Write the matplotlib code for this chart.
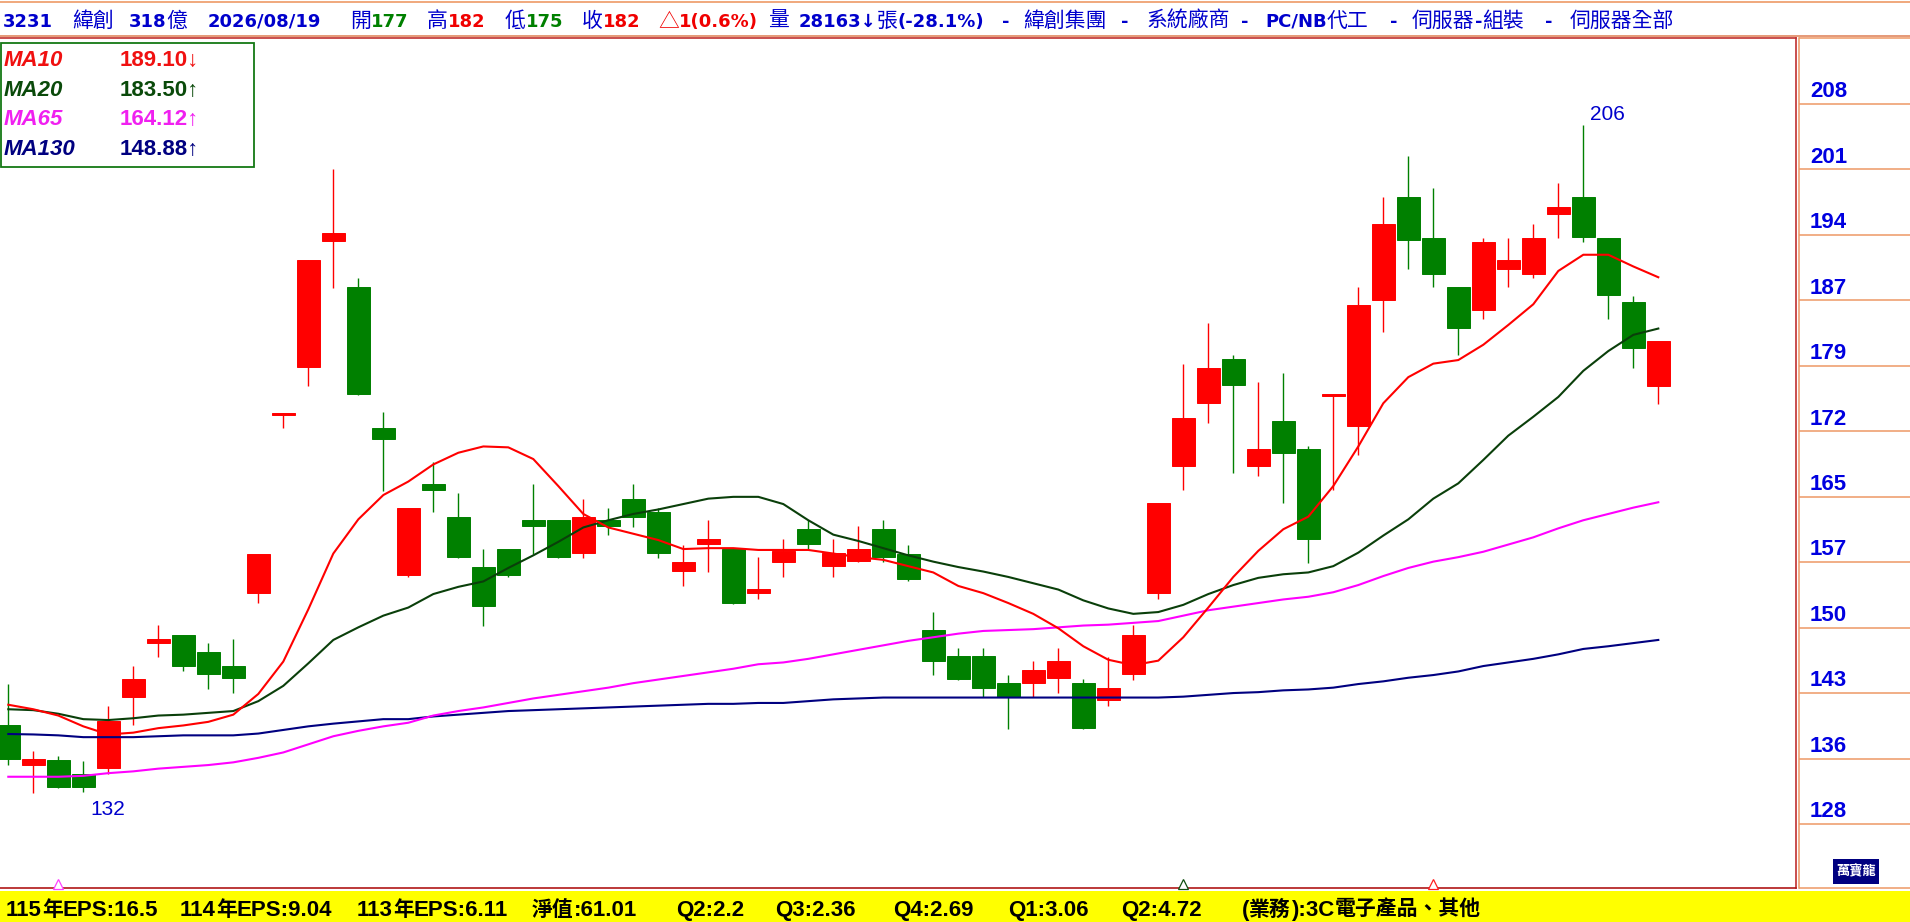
import numpy as np
import matplotlib
matplotlib.use("Agg")
import matplotlib.pyplot as plt
from matplotlib.font_manager import FontProperties
from matplotlib.patches import Rectangle
from matplotlib.lines import Line2D
import matplotlib.transforms as mtransforms

# ---------------- data ----------------
opens = [139.4, 134.9, 135.5, 133.9, 134.6, 142.5, 148.5, 149.4, 147.5, 145.9,
         154.0, 173.8, 179.1, 193.1, 188.0, 172.4, 156.0, 166.1, 162.5, 156.9,
         158.9, 162.1, 162.1, 158.5, 162.1, 164.5, 163.0, 156.5, 159.5, 158.9,
         154.0, 157.5, 161.1, 157.0, 157.6, 161.1, 158.4, 149.9, 147.0, 147.0,
         144.0, 144.0, 144.6, 144.0, 142.1, 145.0, 154.0, 168.1, 175.1, 180.0,
         168.1, 173.1, 170.0, 175.9, 172.6, 186.6, 198.0, 193.5, 188.0, 185.5,
         190.0, 189.5, 196.1, 198.0, 193.5, 186.4, 177.0]
highs = [143.9, 136.5, 135.9, 135.4, 141.5, 145.9, 150.5, 149.4, 148.5, 148.9,
         158.4, 174.0, 191.0, 201.1, 189.0, 174.1, 163.5, 168.6, 165.1, 158.9,
         158.9, 166.1, 162.1, 164.5, 163.5, 166.1, 163.5, 159.4, 162.1, 158.9,
         158.0, 160.0, 162.1, 160.0, 161.5, 162.1, 159.4, 151.9, 147.9, 147.9,
         144.9, 146.5, 147.9, 144.5, 146.9, 150.5, 164.0, 179.5, 184.0, 180.5,
         177.5, 178.5, 170.4, 176.1, 188.0, 198.0, 202.6, 199.0, 188.0, 193.5,
         193.5, 195.0, 199.6, 206.0, 193.5, 187.0, 182.0]
lows = [134.9, 131.8, 132.4, 131.9, 133.9, 139.4, 146.9, 145.4, 143.4, 142.9,
        152.9, 172.4, 177.0, 187.9, 176.0, 165.4, 155.8, 163.0, 157.9, 150.4,
        155.8, 158.4, 157.9, 157.9, 160.5, 161.4, 157.9, 154.8, 156.4, 152.8,
        153.4, 155.8, 158.9, 155.8, 157.5, 157.5, 155.3, 144.9, 144.4, 142.5,
        138.9, 142.5, 142.9, 138.9, 141.5, 144.4, 153.4, 165.5, 172.9, 167.4,
        167.0, 164.0, 157.4, 165.5, 169.4, 183.0, 190.0, 188.0, 180.5, 184.5,
        188.0, 189.0, 193.5, 193.0, 184.5, 179.0, 175.0]
closes = [135.6, 135.6, 132.5, 132.5, 139.8, 144.5, 148.9, 145.9, 145.0, 144.6,
          158.4, 174.0, 191.0, 194.0, 176.1, 171.1, 163.5, 165.5, 158.0, 152.6,
          156.0, 161.5, 158.0, 162.5, 161.5, 162.5, 158.5, 157.5, 160.0, 152.9,
          154.5, 158.7, 159.5, 158.5, 158.9, 158.0, 155.6, 146.5, 144.5, 143.5,
          142.5, 145.5, 146.5, 139.0, 143.5, 149.4, 164.0, 173.5, 179.0, 177.1,
          170.0, 169.6, 160.0, 176.1, 186.0, 195.0, 193.2, 189.5, 183.5, 193.0,
          191.0, 193.5, 196.9, 193.6, 187.1, 181.2, 182.0]

ma10 = [141.6, 141.1, 140.4, 139.2, 138.3, 138.5, 139.0, 139.3, 139.7, 140.5,
        142.8, 146.4, 152.2, 158.4, 162.2, 164.9, 166.4, 168.3, 169.6, 170.3,
        170.2, 168.9, 165.9, 162.8, 161.3, 160.6, 159.9, 158.9, 159.0, 159.0,
        158.8, 158.8, 158.8, 158.4, 158.0, 157.7, 157.0, 156.3, 154.8, 154.0,
        152.9, 151.7, 150.1, 148.1, 146.6, 146.0, 146.5, 149.1, 152.4, 155.8,
        158.7, 161.1, 162.5, 165.9, 170.3, 175.1, 178.0, 179.5, 179.9, 181.6,
        183.8, 186.1, 189.8, 191.6, 191.6, 190.3, 189.1]
ma20 = [141.1, 141.0, 140.6, 140.0, 139.9, 140.1, 140.4, 140.5, 140.7, 140.9,
        142.0, 143.7, 146.2, 148.8, 150.2, 151.5, 152.4, 153.9, 154.7, 155.3,
        156.8, 158.2, 159.7, 161.3, 162.1, 162.8, 163.3, 163.9, 164.5, 164.7,
        164.7, 163.9, 162.1, 160.5, 159.8, 159.0, 158.2, 157.5, 156.9, 156.4,
        155.8, 155.1, 154.4, 153.2, 152.3, 151.7, 151.9, 152.7, 153.9, 154.9,
        155.7, 156.1, 156.3, 157.0, 158.5, 160.4, 162.2, 164.5, 166.2, 168.8,
        171.5, 173.6, 175.8, 178.7, 180.9, 182.7, 183.4]
ma65 = [133.6, 133.6, 133.6, 133.7, 134.0, 134.2, 134.5, 134.7, 134.9, 135.2,
        135.7, 136.3, 137.2, 138.1, 138.7, 139.2, 139.6, 140.4, 140.9, 141.3,
        141.8, 142.3, 142.7, 143.1, 143.5, 144.0, 144.4, 144.8, 145.2, 145.6,
        146.1, 146.3, 146.7, 147.2, 147.7, 148.2, 148.7, 149.1, 149.5, 149.8,
        149.9, 150.0, 150.2, 150.4, 150.5, 150.7, 150.9, 151.5, 152.1, 152.5,
        152.9, 153.3, 153.6, 154.1, 154.9, 155.9, 156.8, 157.5, 158.0, 158.6,
        159.4, 160.2, 161.2, 162.1, 162.8, 163.5, 164.1]
ma130 = [138.35, 138.3, 138.2, 138.0, 138.0, 138.0, 138.1, 138.2, 138.2, 138.2,
         138.4, 138.8, 139.2, 139.5, 139.75, 140.0, 140.0, 140.3, 140.5, 140.7,
         140.9, 141.0, 141.1, 141.2, 141.3, 141.4, 141.5, 141.6, 141.7, 141.7,
         141.8, 141.8, 142.0, 142.2, 142.3, 142.4, 142.4, 142.4, 142.4, 142.4,
         142.4, 142.4, 142.4, 142.4, 142.4, 142.4, 142.4, 142.5, 142.7, 142.9,
         143.0, 143.2, 143.3, 143.5, 143.9, 144.2, 144.6, 144.9, 145.3, 145.9,
         146.3, 146.7, 147.2, 147.8, 148.1, 148.45, 148.8]

ma_names = ["MA10", "MA20", "MA65", "MA130"]
ma_last = ["189.10", "183.50", "164.12", "148.88"]
ma_dir = ["↓", "↑", "↑", "↑"]

y_tick_labels = ["128", "136", "143", "150", "157", "165", "172", "179", "187", "194", "201", "208"]
Y_TICK_LOW, Y_TICK_HIGH = 128.35, 208.35

high_label, high_idx = "206", 63
low_label, low_idx = "132", 3
marker_idx = [2, 47, 57]

title_parts = [
    (3, [("3231", "B")]), (72, [("緯創", "B")]), (129, [("318億", "B")]),
    (208, [("2026/08/19", "B")]),
    (350, [("開", "B"), ("177", "G")]), (427, [("高", "B"), ("182", "R")]),
    (505, [("低", "B"), ("175", "G")]), (582, [("收", "B"), ("182", "R")]),
    (658, [("△1(0.6%)", "R")]), (768, [("量", "B")]),
    (799, [("28163↓張(-28.1%)", "B")]),
    (1002, [("-", "B")]), (1023, [("緯創集團", "B")]),
    (1121, [("-", "B")]), (1147, [("系統廠商", "B")]),
    (1241, [("-", "B")]), (1265, [("PC/NB代工", "B")]),
    (1390, [("-", "B")]), (1412, [("伺服器-組裝", "B")]),
    (1545, [("-", "B")]), (1570, [("伺服器全部", "B")]),
]
bottom_parts = [
    (6, "115年EPS:16.5"), (180, "114年EPS:9.04"), (357, "113年EPS:6.11"),
    (532, "淨值:61.01"), (676, "Q2:2.2"), (775, "Q3:2.36"), (893, "Q4:2.69"),
    (1008, "Q1:3.06"), (1121, "Q2:4.72"), (1242, "(業務):3C電子產品、其他"),
]

# ---------------- styles ----------------
RED = "#FF0000"
GREEN = "#008000"
BLUE = "#0000CC"
MA_COLORS = ["#FF0000", "#0A3F0A", "#FF00FF", "#000080"]
LEG_COLORS = ["#F01010", "#0A4A0A", "#F020F0", "#000080"]
ORANGE = "#EE9966"
FRAME_RED = "#C03030"
TXT_COL = {"B": BLUE, "G": "#008000", "R": "#F00000"}

W, H = 1910, 922
fig = plt.figure(figsize=(W / 100, H / 100), dpi=100)
fig.patch.set_facecolor("white")


def fx(p):
    return p / W


def fy(p):
    return 1 - p / H


PT = 0.72  # points per pixel at 100 dpi

AX_L, AX_R, AX_T, AX_B = 0.0, 1795.7, 38.5, 888.3
TOP_TICK_PX, BOT_TICK_PX = 104.0, 824.0
ppu = (BOT_TICK_PX - TOP_TICK_PX) / (Y_TICK_HIGH - Y_TICK_LOW)
ymax = Y_TICK_HIGH + (TOP_TICK_PX - AX_T) / ppu
ymin = Y_TICK_HIGH - (AX_B - TOP_TICK_PX) / ppu
X0_PX, STEP_PX = 8.3, 25.0

ax = fig.add_axes([fx(AX_L), fy(AX_B), fx(AX_R - AX_L), (AX_B - AX_T) / H])
ax.set_ylim(ymin, ymax)
ax.set_xlim((AX_L - X0_PX) / STEP_PX, (AX_R - X0_PX) / STEP_PX)
ax.set_xticks([])
ax.set_yticks([])
ax.spines["left"].set_visible(False)
ax.spines["top"].set_color(FRAME_RED)
ax.spines["right"].set_color(FRAME_RED)
ax.spines["bottom"].set_color("#B01818")
for s in ["top", "right", "bottom"]:
    ax.spines[s].set_linewidth(1.2)

o = np.array(opens)
h = np.array(highs)
l = np.array(lows)
c = np.array(closes)
x = np.arange(len(o))
cols = np.where(c >= o, RED, GREEN)

ax.vlines(x, l, h, colors=cols, lw=1.0, zorder=2)
ax.bar(x, np.abs(c - o), bottom=np.minimum(o, c), width=0.92, color=cols,
       edgecolor=cols, linewidth=0.7, zorder=3)

for vals, col in zip([ma130, ma65, ma20, ma10], MA_COLORS[::-1]):
    ax.plot(x, vals, color=col, lw=1.5, zorder=4, solid_joinstyle="round")

lab_font = FontProperties(family=["Liberation Sans", "DejaVu Sans"], size=15)
ax.annotate(high_label, xy=(high_idx, h[high_idx]), xytext=(6.7 * PT, 5.3 * PT),
            textcoords="offset points", ha="left", va="baseline", color=BLUE,
            fontproperties=lab_font, zorder=6)
ax.annotate(low_label, xy=(low_idx, l[low_idx]), xytext=(6.7 * PT, -22.8 * PT),
            textcoords="offset points", ha="left", va="baseline", color=BLUE,
            fontproperties=lab_font, zorder=6)

mtr = mtransforms.blended_transform_factory(ax.transData, ax.transAxes)
for idx, col in zip(marker_idx, ["#FF40FF", "#105010", "#FF2020"]):
    ax.plot([idx], [0.0048], marker="^", ms=6.5, mfc="white", mec=col, mew=0.9,
            transform=mtr, clip_on=False, zorder=5)

# ---------------- right price panel ----------------
axr = fig.add_axes([fx(1799), fy(AX_B), fx(W - 1799), (AX_B - AX_T) / H])
axr.set_ylim(ymin, ymax)
axr.set_xlim(0, 1)
axr.set_axis_off()
ticks = np.linspace(Y_TICK_LOW, Y_TICK_HIGH, len(y_tick_labels))
axr.hlines(ticks, 0, 1, color=ORANGE, lw=1.1, clip_on=False)
axr.hlines([ymin, ymax], 0, 1, color=ORANGE, lw=1.1, clip_on=False)
axr.plot([0, 0], [ymin, ymax], color=ORANGE, lw=1.1, clip_on=False)
tick_font = FontProperties(family=["Liberation Sans", "DejaVu Sans"], weight="bold", size=16)
for t, lab in zip(ticks, y_tick_labels):
    axr.annotate(lab, xy=(0, t), xytext=(11 * PT, 6.7 * PT), textcoords="offset points",
                 ha="left", va="baseline", color="#0000E0", fontproperties=tick_font)

# logo
fig.add_artist(Rectangle((fx(1833), fy(884)), fx(46), 25 / H, transform=fig.transFigure,
                         facecolor="#000080", edgecolor="none", zorder=5))
fig.text(fx(1856), fy(871.5), "萬寶龍", color="white", ha="center", va="center",
         fontproperties=FontProperties(family=["Noto Sans CJK TC"], weight="bold", size=9.5),
         zorder=6)

# ---------------- frame lines at top ----------------
fig.add_artist(Line2D([0, 1], [fy(1.7), fy(1.7)], transform=fig.transFigure, color=ORANGE, lw=1.2))
fig.add_artist(Line2D([0, 1], [fy(36.0), fy(36.0)], transform=fig.transFigure, color="#E08860", lw=1.2))

# ---------------- yellow info bar ----------------
fig.add_artist(Rectangle((0, 0), 1, (H - 890.7) / H, transform=fig.transFigure,
                         facecolor="#FFFF00", edgecolor="none", zorder=1))

renderer = fig.canvas.get_renderer()


def is_cjk(ch):
    return ord(ch) >= 0x2E80 or ch == "△"


def split_runs(s):
    runs, cur, cur_c = [], "", None
    for ch in s:
        cj = is_cjk(ch)
        if cur and cj != cur_c:
            runs.append((cur, cur_c))
            cur = ""
        cur += ch
        cur_c = cj
    if cur:
        runs.append((cur, cur_c))
    return runs


def draw_runs(x_px, base_px, pieces, latin_fp, cjk_fp, zorder=6):
    xx = x_px
    for s, col in pieces:
        for seg, cj in split_runs(s):
            t = fig.text(fx(xx), fy(base_px), seg, color=col, ha="left", va="baseline",
                         fontproperties=cjk_fp if cj else latin_fp, zorder=zorder)
            xx += t.get_window_extent(renderer).width
    return xx


title_latin = FontProperties(family=["DejaVu Sans"], weight="bold", size=13)
title_cjk = FontProperties(family=["Noto Sans CJK TC", "DejaVu Sans"], weight="normal", size=15)
for xp, pieces in title_parts:
    draw_runs(xp, 27.0, [(s, TXT_COL[k]) for s, k in pieces], title_latin, title_cjk)

bot_latin = FontProperties(family=["Liberation Sans", "DejaVu Sans"], weight="bold", size=16)
bot_cjk = FontProperties(family=["Noto Sans CJK TC", "DejaVu Sans"], weight="bold", size=15)
for xp, s in bottom_parts:
    draw_runs(xp, 915.5, [(s, "black")], bot_latin, bot_cjk)

# ---------------- MA legend box ----------------
fig.add_artist(Rectangle((fx(0.5), fy(166.7)), fx(253.5), (166.7 - 42.7) / H,
                         transform=fig.transFigure, facecolor="white",
                         edgecolor="#147814", lw=1.3, zorder=5))
leg_lab = FontProperties(family=["Liberation Sans", "DejaVu Sans"], weight="bold", style="italic", size=16)
leg_val = FontProperties(family=["Liberation Sans", "DejaVu Sans"], weight="bold", size=16)
for k, (nm, val, d, col) in enumerate(zip(ma_names, ma_last, ma_dir, LEG_COLORS)):
    base = 66.0 + k * 29.7
    fig.text(fx(4), fy(base), nm, color=col, ha="left", va="baseline", fontproperties=leg_lab, zorder=6)
    fig.text(fx(120), fy(base), val + d, color=col, ha="left", va="baseline", fontproperties=leg_val, zorder=6)

fig.savefig("out.png", dpi=100, facecolor="white")
